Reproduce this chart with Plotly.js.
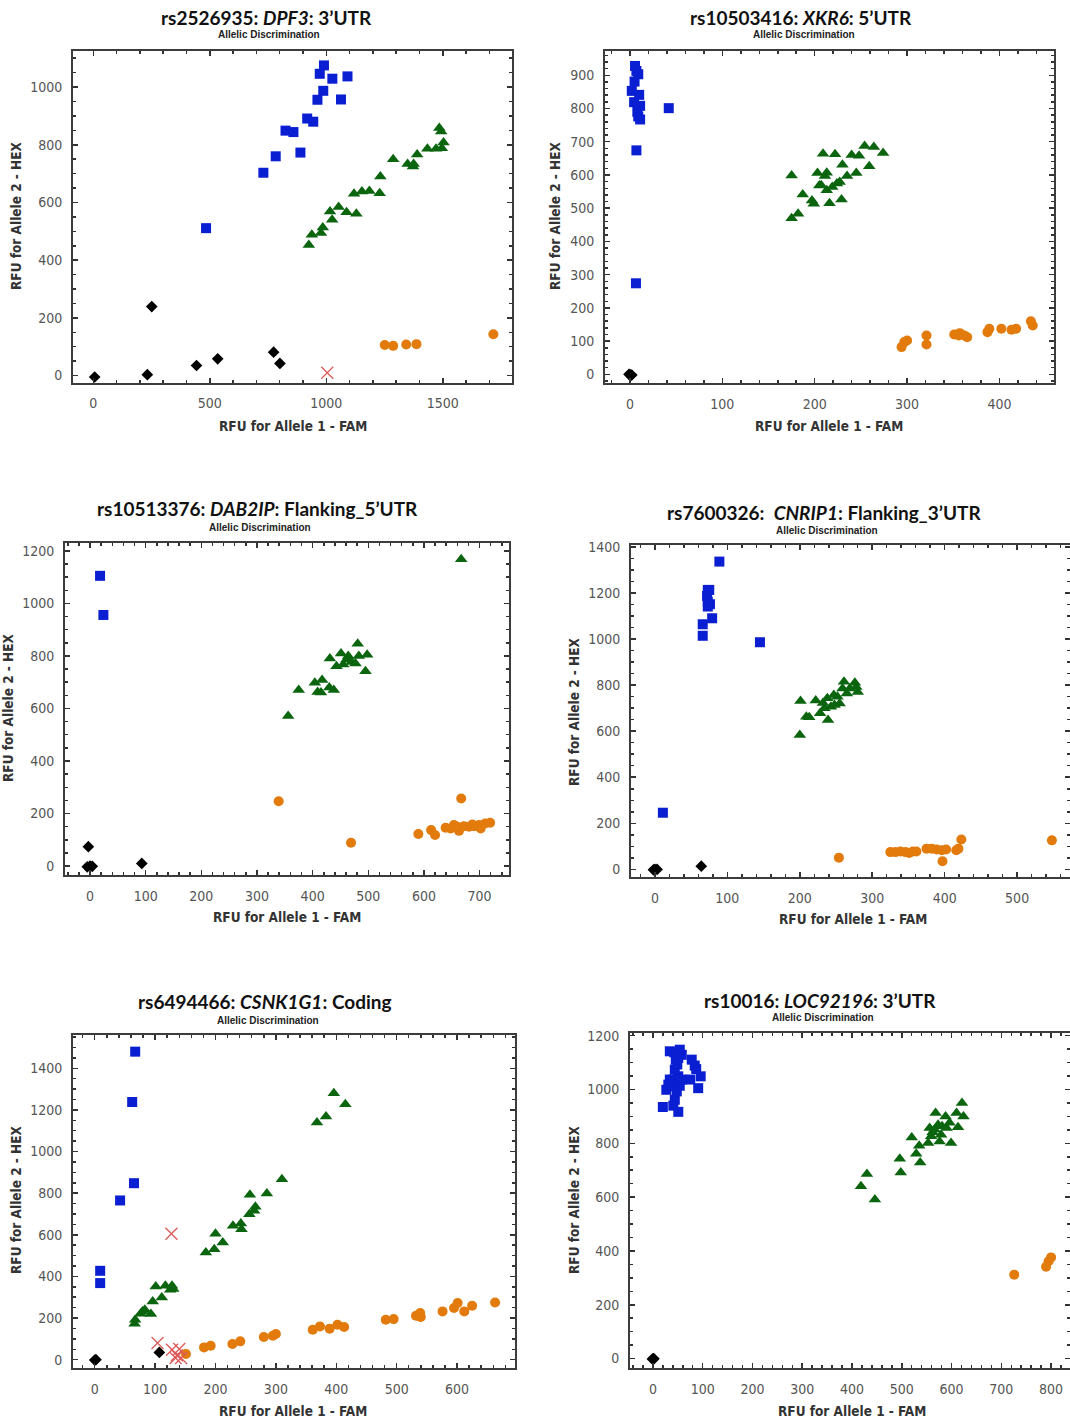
<!DOCTYPE html>
<html>
<head>
<meta charset="utf-8">
<script src="https://cdn.plot.ly/plotly-3.0.1.min.js"></script>
<style>html,body{margin:0;padding:0;background:#fff;overflow:hidden;}#chart{width:1070px;height:1423px;}</style>
</head>
<body>
<div id="chart"></div>
<script>
// ---------- Titles ----------
const panelTitles = [
  "rs2526935: <i>DPF3</i>: 3’UTR",
  "rs10503416: <i>XKR6</i>: 5’UTR",
  "rs10513376: <i>DAB2IP</i>: Flanking_5’UTR",
  "rs7600326:  <i>CNRIP1</i>: Flanking_3’UTR",
  "rs6494466: <i>CSNK1G1</i>: Coding",
  "rs10016: <i>LOC92196</i>: 3’UTR"
];
const subTitle = "Allelic Discrimination";
const xTitle = "RFU for Allele 1 - FAM";
const yTitle = "RFU for Allele 2 - HEX";

// ---------- Panel 1: rs2526935 ----------
const p1_a2_x = [484,730,783,825,859,889,918,944,962,987,972,990,1026,1063,1091];
const p1_a2_y = [511,703,760,849,844,773,891,880,956,987,1046,1075,1029,957,1037];
const p1_het_x = [925,938,977,985,1016,1025,1053,1087,1129,1232,1229,1119,1153,1185,1287,1349,1372,1390,1434,1471,1485,1493,1503,1496,1375];
const p1_het_y = [453,488,494,513,569,540,584,566,561,690,632,630,638,640,750,733,725,766,786,786,858,846,808,788,733];
const p1_a1_x = [1251,1287,1343,1387,1717];
const p1_a1_y = [106,103,108,109,143];
const p1_ntc_x = [6,232,251,443,534,774,801];
const p1_ntc_y = [-5,3,239,35,58,81,42];
const p1_und_x = [1004];
const p1_und_y = [10];

// ---------- Panel 2: rs10503416 ----------
const p2_a2_x = [5.5,7,9,5,2,4.5,10,11,9,11,7,42,6.5,8];
const p2_a2_y = [928,913,903,881,853,819,841,808,776,767,674,801,274,790];
const p2_het_x = [175,175,182,187,197,199,203,205,209,211,213,213,216,222,224,230,229,235,240,245,248,254,259,264,274,207,219,227];
const p2_het_y = [598,470,483,541,523,513,606,568,664,597,607,554,515,662,574,631,526,597,660,606,658,687,626,684,666,569,564,579];
const p2_a1_x = [294,297,300,321,321,351,357,362,365,387,389,402,413,418,434,436,356];
const p2_a1_y = [82,97,102,117,90,120,124,117,112,127,137,137,134,137,160,147,117];
const p2_ntc_x = [-1,1,0,2];
const p2_ntc_y = [0,-3,-1,-2];
const p2_und_x = [];
const p2_und_y = [];

// ---------- Panel 3: rs10513376 ----------
const p3_a2_x = [18,24];
const p3_a2_y = [1105,956];
const p3_het_x = [356,375,404,417,409,415,430,438,431,443,451,455,464,470,477,481,483,495,498,461,667];
const p3_het_y = [571,670,698,708,663,661,680,670,790,761,809,767,800,777,771,846,800,742,805,786,1168];
const p3_a1_x = [339,469,590,613,620,639,648,660,663,672,681,690,699,702,710,719,667,654,687];
const p3_a1_y = [247,89,122,137,118,146,143,150,134,152,150,152,156,143,162,165,257,156,158];
const p3_ntc_x = [-3,0,-5,4,93];
const p3_ntc_y = [74,0,-3,-1,10];
const p3_und_x = [];
const p3_und_y = [];

// ---------- Panel 4: rs7600326 ----------
const p4_a2_x = [89,73,75,72,73,76,73,79,66,66,145,11];
const p4_a2_y = [1336,1213,1213,1187,1162,1151,1141,1090,1064,1014,986,246];
const p4_het_x = [200,201,209,213,222,228,232,238,239,243,247,252,255,259,261,265,269,276,278,280,248,234];
const p4_het_y = [583,731,663,660,733,678,722,743,648,706,757,749,720,785,814,763,785,810,792,770,713,699];
const p4_a1_x = [254,325,332,339,346,351,356,375,382,389,396,402,397,419,423,548,361,416];
const p4_a1_y = [51,75,75,78,75,71,78,90,90,86,83,86,35,90,130,126,78,83];
const p4_ntc_x = [0,-2,3,64];
const p4_ntc_y = [0,-2,0,14];
const p4_und_x = [];
const p4_und_y = [];

// ---------- Panel 5: rs6494466 ----------
const p5_a2_x = [67,62,65,42,9,9];
const p5_a2_y = [1480,1238,848,765,427,368];
const p5_het_x = [66,67,76,79,83,93,96,101,111,117,125,128,130,184,198,200,212,229,243,242,257,256,264,266,285,310,368,383,396,415];
const p5_het_y = [173,192,221,232,240,219,280,352,299,355,336,355,339,515,531,605,563,643,627,654,792,699,715,735,798,867,1139,1168,1280,1227];
const p5_a1_x = [151,181,192,228,241,280,295,300,361,373,389,402,413,482,495,532,539,540,576,595,601,612,625,663,538];
const p5_a1_y = [27,59,67,75,88,109,115,123,144,160,149,168,157,192,195,211,224,205,232,248,272,232,259,275,208];
const p5_ntc_x = [2,0,107];
const p5_ntc_y = [0,-2,35];
const p5_und_x = [127,104,128,140,136,143,134];
const p5_und_y = [605,80,48,51,21,8,8];

// ---------- Panel 6: rs10016 ----------
const p6_a2_x = [20,41,51,44,27,38,48,54,41,51,44,49,46,34,43,54,58,51,78,84,87,96,91,75,58,34,31];
const p6_a2_y = [935,940,917,962,999,1012,993,1014,1037,1049,1074,1093,1111,1142,1138,1148,1129,1117,1111,1089,1076,1049,1005,1037,1037,1037,1018];
const p6_het_x = [418,430,446,496,498,520,529,535,537,553,556,559,568,566,573,579,581,588,590,596,599,610,613,621,624,576,562];
const p6_het_y = [640,686,591,743,692,822,761,791,729,801,857,826,913,851,869,832,863,900,857,876,801,913,860,950,900,807,841];
const p6_a1_x = [726,790,795,800];
const p6_a1_y = [312,341,362,376];
const p6_ntc_x = [1,-1,2];
const p6_ntc_y = [0,-2,-1];
const p6_und_x = [];
const p6_und_y = [];

// ---------- Axis ticks ----------
const xMajor = [500,100,100,100,100,100];
const xMinor = [100,20,20,20,20,20];
const yMajor = [200,100,200,200,200,200];
const yMinor = [50,20,50,50,50,50];
const xRanges = [[-87,1797],[-27,459],[-45,752],[-33,573],[-36,696],[-46,838]];
const yRanges = [[-24,1125],[-26,973],[-34,1230],[-33,1408],[-40,1560],[-35,1210]];

// ---------- Layout geometry (pixels) ----------
const W = 1070, H = 1423;
const boxes = [
  {l:73, r:512, t:51, b:382.5, tx:266, ty:17, sy:35, xtx:293, xty:426, ytx:16, yty:216},
  {l:605, r:1054, t:51, b:383, tx:801, ty:17, sy:35, xtx:829, xty:426, ytx:555, yty:216},
  {l:65, r:508.5, t:543, b:875, tx:257, ty:509, sy:527, xtx:287, xty:917, ytx:8, yty:708},
  {l:631, r:1072, t:545, b:877, tx:824, ty:512, sy:530, xtx:853, xty:919, ytx:574, yty:712},
  {l:73, r:515, t:1035, b:1368, tx:265, ty:1001, sy:1020, xtx:293, xty:1411, ytx:16, yty:1200},
  {l:630, r:1072, t:1033, b:1368, tx:820, ty:1000, sy:1018, xtx:852, xty:1411, ytx:574, yty:1200}
];

const groups = [
  {key:'a2', name:'Allele 2', marker:{symbol:'square', color:'#0a1ed2', size:10}},
  {key:'het', name:'Heterozygote', marker:{symbol:'triangle-up', color:'#0b650f', size:11}},
  {key:'a1', name:'Allele 1', marker:{symbol:'circle', color:'#e27b0c', size:10}},
  {key:'ntc', name:'NTC', marker:{symbol:'diamond', color:'#000000', size:9}},
  {key:'und', name:'Undetermined', marker:{symbol:'x-thin-open', color:'#dd5a5a', size:12, line:{width:1.3, color:'#dd5a5a'}}}
];

const panelData = [
  {a2:[p1_a2_x,p1_a2_y], het:[p1_het_x,p1_het_y], a1:[p1_a1_x,p1_a1_y], ntc:[p1_ntc_x,p1_ntc_y], und:[p1_und_x,p1_und_y]},
  {a2:[p2_a2_x,p2_a2_y], het:[p2_het_x,p2_het_y], a1:[p2_a1_x,p2_a1_y], ntc:[p2_ntc_x,p2_ntc_y], und:[p2_und_x,p2_und_y]},
  {a2:[p3_a2_x,p3_a2_y], het:[p3_het_x,p3_het_y], a1:[p3_a1_x,p3_a1_y], ntc:[p3_ntc_x,p3_ntc_y], und:[p3_und_x,p3_und_y]},
  {a2:[p4_a2_x,p4_a2_y], het:[p4_het_x,p4_het_y], a1:[p4_a1_x,p4_a1_y], ntc:[p4_ntc_x,p4_ntc_y], und:[p4_und_x,p4_und_y]},
  {a2:[p5_a2_x,p5_a2_y], het:[p5_het_x,p5_het_y], a1:[p5_a1_x,p5_a1_y], ntc:[p5_ntc_x,p5_ntc_y], und:[p5_und_x,p5_und_y]},
  {a2:[p6_a2_x,p6_a2_y], het:[p6_het_x,p6_het_y], a1:[p6_a1_x,p6_a1_y], ntc:[p6_ntc_x,p6_ntc_y], und:[p6_und_x,p6_und_y]}
];

const tickFont = {family:'"Liberation Sans Narrow", "DejaVu Sans Condensed", "Liberation Sans", sans-serif', size:14, color:'#555555'};
const axTitleFont = {family:'"Liberation Sans Narrow", "DejaVu Sans Condensed", "Liberation Sans", sans-serif', size:13.5, color:'#333333', weight:'bold'};
const titleFont = {family:'Lato, "Open Sans", sans-serif', size:19, color:'#111111', weight:'bold'};
const subFont = {family:'"Liberation Sans", Arial, sans-serif', size:10, color:'#222222', weight:'bold'};

const traces = [];
const layout = {
  width: W, height: H,
  margin:{l:0,r:0,t:0,b:0,pad:0},
  paper_bgcolor:'#ffffff', plot_bgcolor:'#ffffff',
  showlegend:false,
  annotations:[]
};

boxes.forEach((bx, i) => {
  const n = i + 1;
  const xa = n === 1 ? 'x' : 'x' + n;
  const ya = n === 1 ? 'y' : 'y' + n;
  const xkey = n === 1 ? 'xaxis' : 'xaxis' + n;
  const ykey = n === 1 ? 'yaxis' : 'yaxis' + n;
  groups.forEach(g => {
    const d = panelData[i][g.key];
    if (d[0].length === 0) return;
    traces.push({type:'scatter', mode:'markers', name:g.name, x:d[0], y:d[1], xaxis:xa, yaxis:ya, marker:g.marker, cliponaxis:false, hoverinfo:'x+y+name'});
  });
  const common = {
    showgrid:false, zeroline:false, showline:true, linecolor:'#3c3c3c', linewidth:2,
    mirror:'allticks', ticks:'inside', ticklen:5, tickwidth:1.5, tickcolor:'#333333',
    tickfont:tickFont, fixedrange:true
  };
  layout[xkey] = Object.assign({}, common, {
    domain:[bx.l / W, bx.r / W], anchor:ya,
    range:xRanges[i], dtick:xMajor[i], tick0:0, ticklabelstandoff:7,
    minor:{dtick:xMinor[i], tick0:0, ticks:'inside', ticklen:3, tickwidth:1.5, tickcolor:'#333333'}
  });
  layout[ykey] = Object.assign({}, common, {
    domain:[1 - bx.b / H, 1 - bx.t / H], anchor:xa,
    range:yRanges[i], dtick:yMajor[i], tick0:0, ticklabelstandoff:6,
    minor:{dtick:yMinor[i], tick0:0, ticks:'inside', ticklen:3, tickwidth:1.5, tickcolor:'#333333'}
  });
  layout.annotations.push(
    {xref:'paper', yref:'paper', x:bx.tx / W, y:1 - bx.ty / H, text:'<b>' + panelTitles[i] + '</b>', showarrow:false, xanchor:'center', yanchor:'middle', font:titleFont},
    {xref:'paper', yref:'paper', x:(bx.tx + 3) / W, y:1 - bx.sy / H, text:'<b>' + subTitle + '</b>', showarrow:false, xanchor:'center', yanchor:'middle', font:subFont},
    {xref:'paper', yref:'paper', x:bx.xtx / W, y:1 - bx.xty / H, text:'<b>' + xTitle + '</b>', showarrow:false, xanchor:'center', yanchor:'middle', font:axTitleFont},
    {xref:'paper', yref:'paper', x:bx.ytx / W, y:1 - bx.yty / H, text:'<b>' + yTitle + '</b>', showarrow:false, xanchor:'center', yanchor:'middle', textangle:-90, font:axTitleFont}
  );
});

Plotly.newPlot('chart', traces, layout, {staticPlot:true, displayModeBar:false});
</script>
</body>
</html>
